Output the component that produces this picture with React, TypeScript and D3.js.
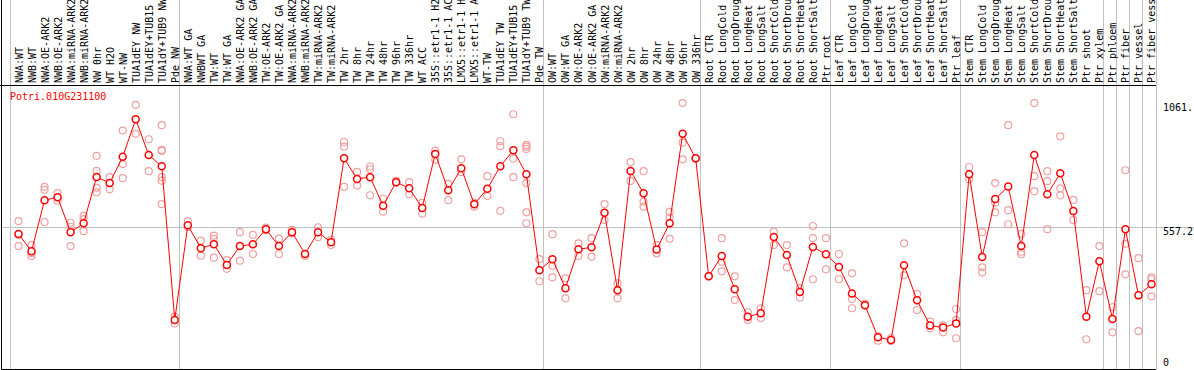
import { useRef, useEffect } from 'react';
import * as d3 from 'd3';

const geneName = "Potri.010G231100";

// labels as they appear (the long ones are cut at the top edge in the original)
const samples = [
  "NWA:WT", "NWB:WT", "NWA:OE-ARK2", "NWB:OE-ARK2", "NWA:miRNA-ARK2", "NWB:miRNA-ARK2", "NW 0hr", "WT H2O", "WT-NW",
  "TUA1dEY NW", "TUA1dEY+TUB15", "TUA1dY+TUB9 NW", "Pde NW",
  "NWA:WT GA", "NWBWT GA", "TW:WT", "TW:WT GA", "NWA:OE-ARK2 GA", "NWB:OE-ARK2 GA", "TW:OE-ARK2", "TW:OE-ARK2 GA",
  "NWA:miRNA-ARK2", "NWB:miRNA-ARK2", "TW:miRNA-ARK2", "TW:miRNA-ARK2", "TW 2hr", "TW 8hr", "TW 24hr", "TW 48hr",
  "TW 96hr", "TW 336hr", "WT ACC", "35S::etr1-1 H2", "35S::etr1-1 AC", "LMX5::etr1-1 H", "LMX5::etr1-1 A",
  "WT-TW", "TUA1dEY TW", "TUA1dEY+TUB15", "TUA1dY+TUB9 TW", "Pde TW",
  "OW:WT", "OW:WT GA", "OW:OE-ARK2", "OW:OE-ARK2 GA", "OW:miRNA-ARK2", "OW:miRNA-ARK2", "OW 2hr", "OW 8hr",
  "OW 24hr", "OW 48hr", "OW 96hr", "OW 336hr",
  "Root CTR", "Root LongCold", "Root LongDroug", "Root LongHeat", "Root LongSalt", "Root ShortCold",
  "Root ShortDrou", "Root ShortHeat", "Root ShortSalt", "Ptr root",
  "Leaf CTR", "Leaf LongCold", "Leaf LongDroug", "Leaf LongHeat", "Leaf LongSalt", "Leaf ShortCold",
  "Leaf ShortDrou", "Leaf ShortHeat", "Leaf ShortSalt", "Ptr leaf",
  "Stem CTR", "Stem LongCold", "Stem LongDroug", "Stem LongHeat", "Stem LongSalt", "Stem ShortCold",
  "Stem ShortDrou", "Stem ShortHeat", "Stem ShortSalt", "Ptr shoot", "Ptr xylem",
  "Ptr phloem", "Ptr fiber", "Ptr vessel", "Ptr fiber vess",
];

// sample index where a new group starts (a grey separator is drawn before it)
const groupStarts = [0, 13, 41, 53, 63, 73, 84, 85, 86, 87, 88];

const means = [
  533, 463, 669, 681, 540, 576, 763, 738, 844, 996, 851, 806, 186,
  568, 475, 491, 408, 484, 491, 552, 484, 540, 452, 540, 499, 838, 755, 762, 647,
  742, 717, 638, 856, 709, 798, 653, 715, 806, 871, 774, 386,
  431, 314, 471, 479, 618, 306, 787, 697, 470, 576, 937, 838,
  362, 444, 310, 199, 213, 521, 448, 299, 480, 451,
  400, 293, 245, 116, 105, 407, 265, 163, 155, 172,
  774, 440, 674, 724, 484, 851, 693, 778, 625, 199, 423,
  190, 552, 285, 330,
];

const replicates = [
  [585, 484, 530], [488, 444, 456], [723, 711, 581], [698, 667], [578, 562, 484], [606, 593, 544],
  [848, 787, 719, 701], [762, 713], [950, 815, 758], [1054, 937], [915, 786],
  [972, 872, 868, 762, 748, 653], [199, 172],
  [585, 560], [506, 445], [526, 513, 437], [427, 392], [540, 425], [529, 452], [558, 548], [514, 451],
  [549, 535], [452, 444], [560, 520], [509, 488], [904, 885, 723], [783, 728], [805, 794, 689], [675, 623],
  [747, 740], [742, 693], [658, 615], [869, 832], [735, 669], [834, 782], [659, 643], [766, 686],
  [907, 887, 626], [1016, 837, 762], [892, 885, 876, 738, 620, 576], [431, 342],
  [532, 404, 358], [354, 273], [495, 444], [516, 441], [653, 589], [334, 273], [823, 747], [786, 663, 643],
  [488, 455], [622, 599, 513], [1061, 901, 834], [838, 836],
  [362, 364], [516, 421, 382], [362, 266], [217, 186], [233, 194], [542, 488], [488, 398], [314, 276],
  [565, 516, 350], [516, 390],
  [452, 350], [374, 270, 233], [252, 245], [102, 120], [113, 101], [495, 366], [291, 226], [179, 152],
  [164, 136], [230, 186, 112],
  [803, 754], [540, 398, 378], [738, 659, 620], [972, 629, 572], [533, 461, 451], [1061, 766, 705],
  [786, 746, 552], [927, 717, 688], [670, 589], [306, 108], [484, 302],
  [237, 136], [790, 493, 370], [435, 141], [358, 350, 281],
];

const tickValues = [0, 557.2, 1061.3];
const tickLabels = ["0", "557.2", "1061."];

const W = 1194;
const H = 370;
const FONT = "'DejaVu Sans Mono', monospace";

const App = () => {
  const ref = useRef(null);

  useEffect(() => {
    d3.select(ref.current).selectAll("*").remove();
    const svg = d3.select(ref.current);

    const x = d3.scaleBand()
      .domain(samples.map((s, i) => String(i)))
      .range([10, 1156])
      .padding(0);
    const px = (i) => x(String(i)) + 8.5;

    const y = d3.scaleLinear()
      .domain([0, 1061.3])
      .range([366, 103]);

    svg.append("rect").attr("width", W).attr("height", H).attr("fill", "#fff");

    // group separators (full height)
    svg.append("g")
      .selectAll("line")
      .data(groupStarts)
      .join("line")
      .attr("x1", d => d < samples.length ? x(String(d)) : 1156)
      .attr("x2", d => d < samples.length ? x(String(d)) : 1156)
      .attr("y1", 0)
      .attr("y2", 369)
      .attr("stroke", "#c0c0c0")
      .attr("stroke-width", 1)
      .attr("shape-rendering", "crispEdges");

    // reference line
    svg.append("line")
      .attr("x1", 1).attr("x2", W)
      .attr("y1", y(557.2)).attr("y2", y(557.2))
      .attr("stroke", "#c0c0c0")
      .attr("shape-rendering", "crispEdges");

    // frame
    svg.append("path")
      .attr("d", `M1.5,0 V369.5 H1156 M0,85.5 H1156`)
      .attr("stroke", "#000")
      .attr("fill", "none")
      .attr("shape-rendering", "crispEdges");

    // sample labels
    svg.append("g")
      .attr("font-family", FONT)
      .attr("font-size", 10)
      .selectAll("text")
      .data(samples)
      .join("text")
      .attr("transform", (d, i) => `translate(${px(i) + 4},83) rotate(-90)`)
      .attr("fill", "#000")
      .text(d => d);

    // y labels
    svg.append("g")
      .attr("font-family", FONT)
      .attr("font-size", 10)
      .selectAll("text")
      .data(tickValues)
      .join("text")
      .attr("x", 1163)
      .attr("y", d => Math.min(y(d) + 7.5, 366))
      .attr("fill", "#000")
      .text((d, i) => tickLabels[i]);

    svg.append("text")
      .attr("x", 10)
      .attr("y", 100)
      .attr("font-family", FONT)
      .attr("font-size", 10)
      .attr("fill", "#ff0000")
      .text(geneName);

    // replicate points
    const reps = replicates.flatMap((r, i) => r.map(v => ({ i, v })));
    svg.append("g")
      .selectAll("circle")
      .data(reps)
      .join("circle")
      .attr("cx", d => px(d.i))
      .attr("cy", d => y(d.v))
      .attr("r", 3.5)
      .attr("fill", "none")
      .attr("stroke", "#f0a0a0")
      .attr("stroke-width", 1.2);

    const line = d3.line()
      .x((d, i) => px(i))
      .y(d => y(d));

    svg.append("path")
      .datum(means)
      .attr("d", line)
      .attr("fill", "none")
      .attr("stroke", "#ff0000")
      .attr("stroke-width", 1);

    svg.append("g")
      .selectAll("circle")
      .data(means)
      .join("circle")
      .attr("cx", (d, i) => px(i))
      .attr("cy", d => y(d))
      .attr("r", 3.5)
      .attr("fill", "#fff")
      .attr("stroke", "#ff0000")
      .attr("stroke-width", 1.5);
  }, []);

  return (
    <div style={{ position: "absolute", left: 0, top: 0 }}>
      <svg ref={ref} width={W} height={H} style={{ display: "block" }} />
    </div>
  );
};

export default App;
